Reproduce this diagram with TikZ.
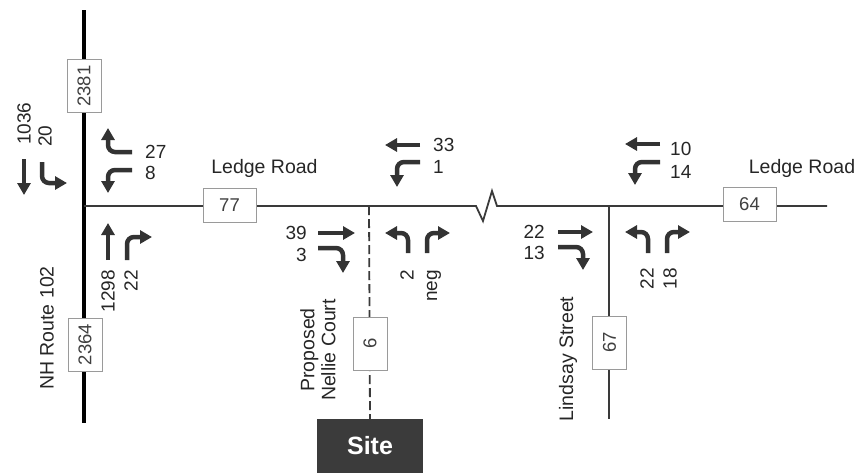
\documentclass[tikz,border=0pt]{standalone}
\usepackage{fontspec}
\setmainfont{Liberation Sans}
\usetikzlibrary{arrows.meta}
\definecolor{mvc}{HTML}{333333}
\definecolor{roadc}{HTML}{3A3A3A}
\definecolor{boxc}{HTML}{9A9A9A}
\definecolor{sitec}{HTML}{3B3B3B}
\tikzset{
  mv/.style={draw=mvc, line width=4.5pt, rounded corners=7pt, -{Triangle[length=12pt,width=13pt]}},
  cnt/.style={draw=boxc, fill=white, line width=0.8pt, minimum width=53pt, minimum height=34pt, inner sep=0pt, font=\fontsize{18.5}{20}\selectfont, text=black!75},
  lbl/.style={font=\fontsize{19.5}{21}\selectfont, inner sep=0pt, text=black!85},
  num/.style={font=\fontsize{19}{21}\selectfont, inner sep=0pt, text=black!85},
  road/.style={draw=roadc, line width=1.8pt},
}
\begin{document}
\begin{tikzpicture}[x=1pt,y=-1pt]
\useasboundingbox (0,0) rectangle (859,475);
% intersections and road ends
\coordinate (A) at (84,206);
\coordinate (B) at (369,206);
\coordinate (C) at (609,206);
\coordinate (nhT) at (84,10);
\coordinate (nhB) at (84,423);
\coordinate (ledgeE) at (827,206);
\coordinate (linS) at (609,419);
\coordinate (brk1) at (476,206);
\coordinate (brk2) at (497,206);
% site
\node[fill=sitec, minimum width=106pt, minimum height=54pt, inner sep=0pt, text=white, font=\fontsize{25}{27}\selectfont\bfseries] (site) at (370,446) {Site};
% roads
\draw[line width=3.2pt, draw=black] (nhT) -- (nhB);
\draw[road] (A) -- (B) -- (brk1) -- ++(7,15) -- ++(9,-30) -- (brk2) -- (C) -- (ledgeE);
\draw[road] (C) -- (linS);
\draw[road, dash pattern=on 9pt off 4pt] (B) -- (site.north);
% count boxes
\node[cnt, rotate=90] (b2381) at (84,86) {2381};
\node[cnt, rotate=90] (b2364) at (85,344.5) {2364};
\node[cnt] (b77) at (229.5,205.5) {77};
\node[cnt] (b64) at (749.5,204) {64};
\node[cnt, rotate=90] (b6) at (370,343.5) {6};
\node[cnt, rotate=90] (b67) at (609.5,342.5) {67};
% road labels
\node[lbl] (lr1) at (264.5,168) {Ledge Road};
\node[lbl] (lr2) at (802,168) {Ledge Road};
\node[lbl, rotate=90] (nh) at (47,328) {NH Route 102};
\node[lbl, rotate=90] (ls) at (568,359) {Lindsay Street};
\node[lbl, rotate=90, align=center, font=\fontsize{19.5}{21}\selectfont] (nc) at (318,350) {Proposed\\Nellie Court};
% NH Route 102 movements
\draw[mv] (24,159) -- (24,195);
\draw[mv] (42,162) -- (42,183) -- (67,183);
\draw[mv] (132,152) -- (108,152) -- (108,128);
\draw[mv] (132,170) -- (108,170) -- (108,193);
\draw[mv] (108,260) -- (108,223);
\draw[mv] (127,260) -- (127,237) -- (152,237);
\node[num, rotate=90, anchor=west] (n1036) at (24,145) {1036};
\node[num, rotate=90, anchor=west] (n20) at (45,147) {20};
\node[num, anchor=west] (n27) at (145,152) {27};
\node[num, anchor=west] (n8) at (145,173) {8};
\node[num, rotate=90, anchor=east] (n1298) at (108,270) {1298};
\node[num, rotate=90, anchor=east] (n22a) at (131,270) {22};
% Nellie Court movements
\draw[mv] (420,145) -- (385,145);
\draw[mv] (420,162) -- (397,162) -- (397,187);
\draw[mv] (318,233) -- (355,233);
\draw[mv] (318,248) -- (343,248) -- (343,273);
\draw[mv] (408,253) -- (408,233) -- (385,233);
\draw[mv] (427,253) -- (427,233) -- (450,233);
\node[num, anchor=west] (n33) at (433,145) {33};
\node[num, anchor=west] (n1) at (433,167) {1};
\node[num, anchor=east] (n39) at (307,233) {39};
\node[num, anchor=east] (n3) at (307,255) {3};
\node[num, rotate=90, anchor=east] (n2) at (407,270) {2};
\node[num, rotate=90, anchor=east] (nneg) at (434,270) {neg};
% Lindsay Street movements
\draw[mv] (660,144) -- (625,144);
\draw[mv] (660,162) -- (635,162) -- (635,185);
\draw[mv] (558,232) -- (593,232);
\draw[mv] (558,247) -- (583,247) -- (583,270);
\draw[mv] (648,253) -- (648,232) -- (625,232);
\draw[mv] (667,253) -- (667,232) -- (690,232);
\node[num, anchor=west] (n10) at (670,149) {10};
\node[num, anchor=west] (n14) at (670,172) {14};
\node[num, anchor=east] (n22b) at (545,232) {22};
\node[num, anchor=east] (n13) at (545,253) {13};
\node[num, rotate=90, anchor=east] (n22c) at (647,268) {22};
\node[num, rotate=90, anchor=east] (n18) at (670,268) {18};
\end{tikzpicture}
\end{document}
